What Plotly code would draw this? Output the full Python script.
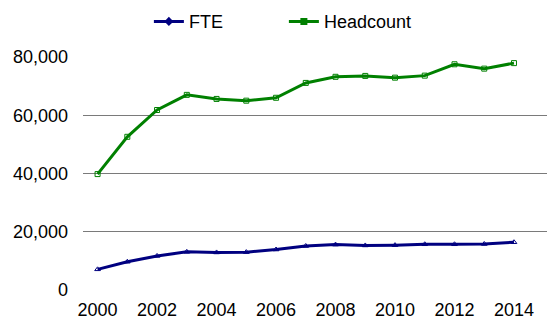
import plotly.graph_objects as go

years = list(range(2000, 2015))
fte = [7100, 9700, 11700, 13100, 12900, 13000, 13900, 15100,
       15600, 15300, 15400, 15700, 15700, 15800, 16400]
headcount = [39800, 52600, 61800, 67000, 65600, 65000, 66000, 71100,
             73200, 73500, 72900, 73600, 77500, 76000, 77900]
y_ticks = [0, 20000, 40000, 60000, 80000]
x_ticks = [2000, 2002, 2004, 2006, 2008, 2010, 2012, 2014]

NAVY = "#000080"
GREEN = "#008000"
FONT = "Liberation Sans, Arial, sans-serif"

fig = go.Figure()

# data series (small open markers on the lines)
fig.add_trace(go.Scatter(
    x=years, y=fte, mode="lines+markers", name="FTE", showlegend=False,
    line=dict(color=NAVY, width=3),
    marker=dict(symbol="triangle-up-open", size=5, color=NAVY, line=dict(width=1)),
))
fig.add_trace(go.Scatter(
    x=years, y=headcount, mode="lines+markers", name="Headcount", showlegend=False,
    line=dict(color=GREEN, width=3),
    marker=dict(symbol="square-open", size=5, color=GREEN, line=dict(width=1)),
))

# legend entries with filled symbols
fig.add_trace(go.Scatter(
    x=[None], y=[None], mode="lines+markers", name="FTE",
    line=dict(color=NAVY, width=3),
    marker=dict(symbol="diamond", size=7, color=NAVY),
))
fig.add_trace(go.Scatter(
    x=[None], y=[None], mode="lines+markers", name="Headcount",
    line=dict(color=GREEN, width=3),
    marker=dict(symbol="square", size=7, color=GREEN),
))

fig.update_layout(
    width=547, height=320,
    margin=dict(l=83, r=0, t=56, b=27),
    paper_bgcolor="white", plot_bgcolor="white",
    font=dict(family=FONT, size=18, color="#000000"),
    showlegend=True,
    legend=dict(
        orientation="h", x=0.142, xanchor="left", y=0.99, yanchor="top",
        yref="container", font=dict(size=18),
        entrywidth=90, entrywidthmode="pixels",
        bgcolor="rgba(0,0,0,0)",
    ),
    xaxis=dict(
        range=[1999.51, 2015.11], tickmode="array", tickvals=x_ticks,
        ticktext=[str(v) for v in x_ticks],
        showgrid=False, zeroline=False, showline=False,
        ticks="", ticklabelstandoff=6,
    ),
    yaxis=dict(
        range=[-340, 80340], tickmode="array", tickvals=y_ticks,
        ticktext=[f"{v:,}" for v in y_ticks],
        showgrid=True, gridcolor="#7a7a7a", gridwidth=1,
        zeroline=False, showline=False,
        ticks="", ticklabelstandoff=14,
    ),
)

fig.write_html("out.html")
